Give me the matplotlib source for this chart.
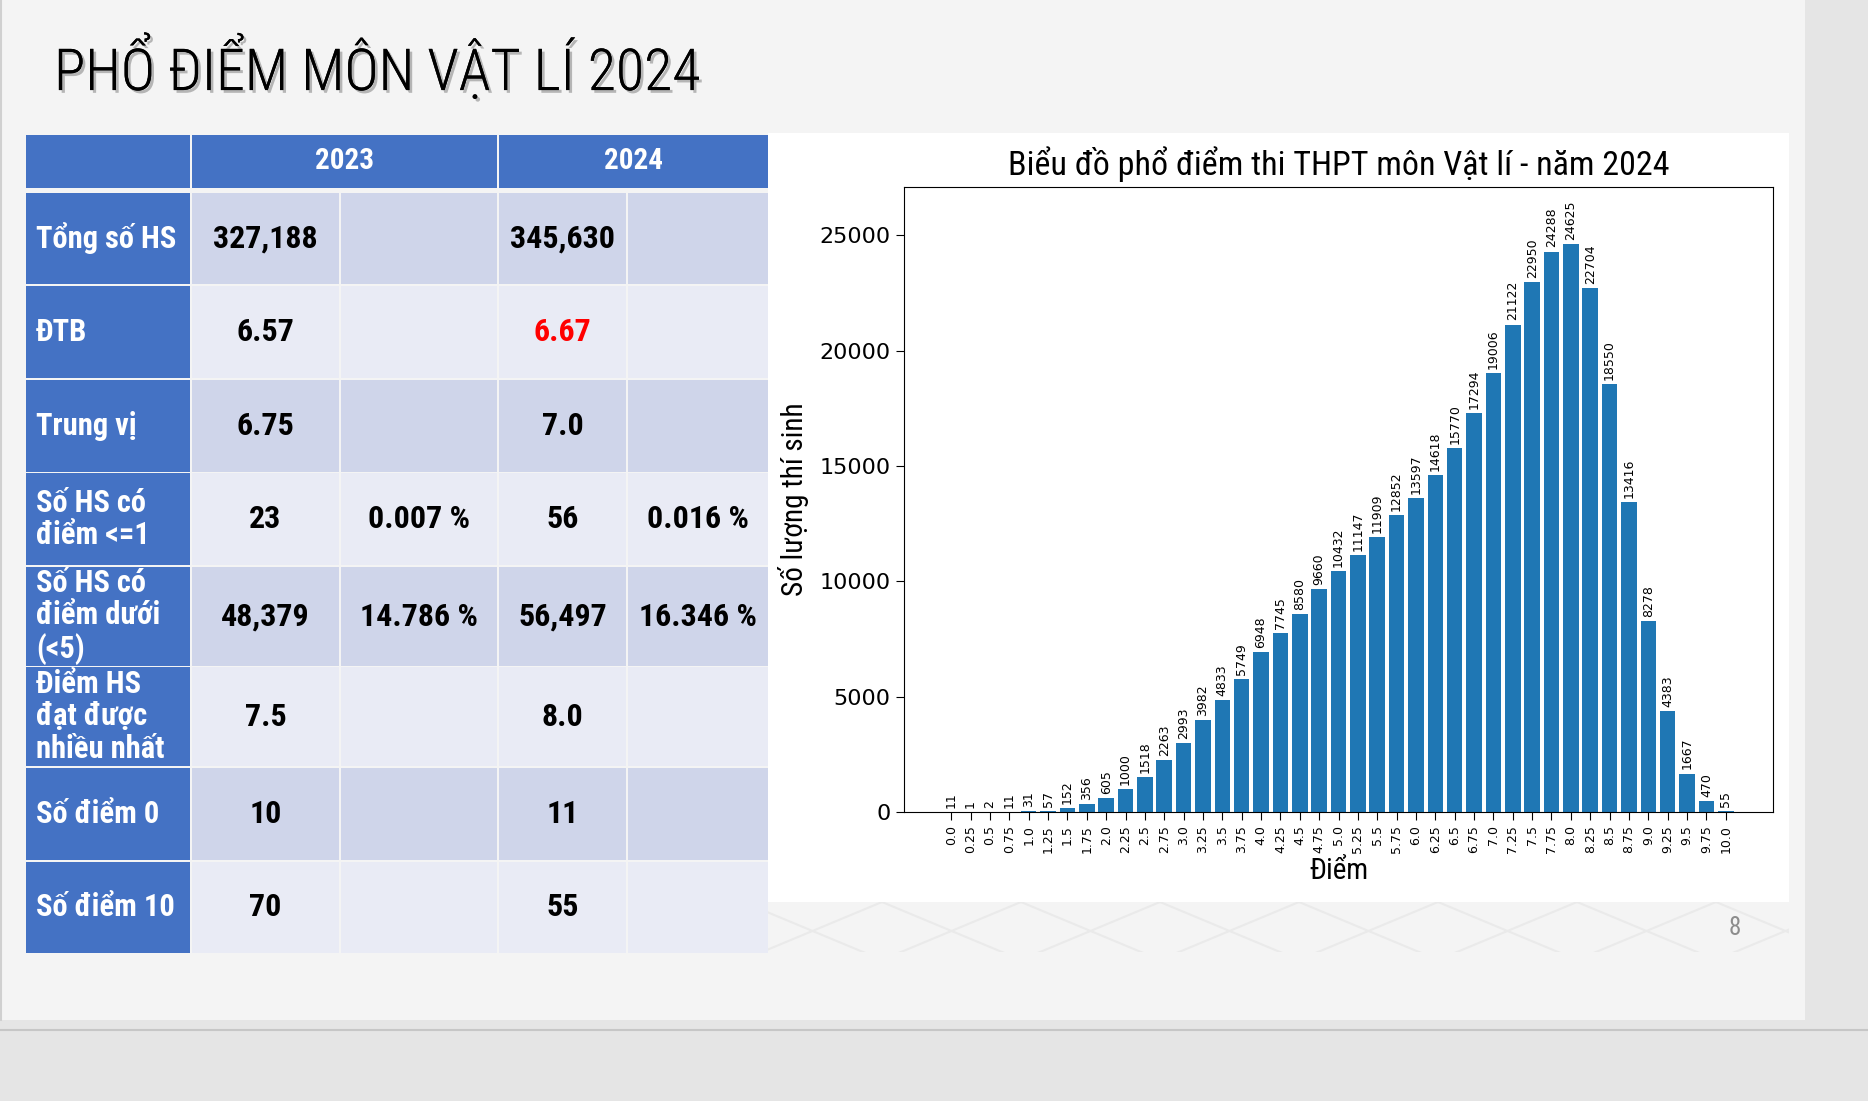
import matplotlib
matplotlib.use('Agg')
import matplotlib.pyplot as plt
from matplotlib.patches import Rectangle
from matplotlib import font_manager as fm
import matplotlib.patheffects as pe

# Du lieu pho diem
diem = ['0.0', '0.25', '0.5', '0.75', '1.0', '1.25', '1.5', '1.75', '2.0', '2.25',
        '2.5', '2.75', '3.0', '3.25', '3.5', '3.75', '4.0', '4.25', '4.5', '4.75',
        '5.0', '5.25', '5.5', '5.75', '6.0', '6.25', '6.5', '6.75', '7.0', '7.25',
        '7.5', '7.75', '8.0', '8.25', '8.5', '8.75', '9.0', '9.25', '9.5', '9.75', '10.0']
so_luong = [11, 1, 2, 11, 31, 57, 152, 356, 605, 1000,
            1518, 2263, 2993, 3982, 4833, 5749, 6948, 7745, 8580, 9660,
            10432, 11147, 11909, 12852, 13597, 14618, 15770, 17294, 19006, 21122,
            22950, 24288, 24625, 22704, 18550, 13416, 8278, 4383, 1667, 470, 55]

# Du lieu bang so sanh
nam = ['2023', '2024']
ten_hang = ['Tổng số HS', 'ĐTB', 'Trung vị', 'Số HS có\nđiểm <=1',
            'Số HS có\nđiểm dưới\n(<5)', 'Điểm HS\nđạt được\nnhiều nhất',
            'Số điểm 0', 'Số điểm 10']
gt_2023 = ['327,188', '6.57', '6.75', '23', '48,379', '7.5', '10', '70']
pt_2023 = ['', '', '', '0.007 %', '14.786 %', '', '', '']
gt_2024 = ['345,630', '6.67', '7.0', '56', '56,497', '8.0', '11', '55']
pt_2024 = ['', '', '', '0.016 %', '16.346 %', '', '', '']


def co_font(ten):
    try:
        fm.findfont(fm.FontProperties(family=ten), fallback_to_default=False)
        return True
    except Exception:
        return False


hep = 'Roboto Condensed' if co_font('Roboto Condensed') else 'Roboto'

W, H = 1868, 1101
fig = plt.figure(figsize=(W / 100, H / 100), dpi=100)
fig.patch.set_facecolor('#e5e5e5')

# nen slide (toa do pixel)
bg = fig.add_axes([0, 0, 1, 1])
bg.set_xlim(0, W)
bg.set_ylim(H, 0)
bg.axis('off')
bg.add_patch(Rectangle((0, 0), 1805, 1020, fc='#f4f4f4', ec='none'))
bg.plot([0, W], [1030, 1030], color='#c6c6c6', lw=1.5)
bg.plot([1, 1], [0, 1020], color='#d0d0d0', lw=1.5)

# hoa van mo phia duoi bieu do
clip = Rectangle((768, 902), 1021, 50, transform=bg.transData)
for k in range(-2, 10):
    x0 = 882 + 139 * k
    for dx in (-120, 120):
        ln, = bg.plot([x0, x0 + dx * 2], [902, 1002], color='#eaeaea', lw=1.5)
        ln.set_clip_path(clip)

# tieu de slide
bg.text(54, 69, 'PHỔ ĐIỂM MÔN VẬT LÍ 2024', fontsize=41.7, family=hep, weight='light',
        va='center', ha='left', color='black',
        path_effects=[pe.withSimplePatchShadow(offset=(2, -2), shadow_rgbFace='#777777', alpha=0.5),
                      pe.Normal()])

# bang
xanh = '#4472c4'
col_l = [26, 192, 341, 499, 628]
col_r = [190, 339, 497, 626, 768]
row_top = [193, 286, 380, 473, 567, 667, 768, 862]
row_bot = [284, 378, 472, 565, 666, 766, 860, 953]

bg.add_patch(Rectangle((col_l[0], 135), col_r[0] - col_l[0], 53, fc=xanh, ec='none'))
for j, y in enumerate(nam):
    xl, xr = col_l[1 + 2 * j], col_r[2 + 2 * j]
    bg.add_patch(Rectangle((xl, 135), xr - xl, 53, fc=xanh, ec='none'))
    bg.text((xl + xr) / 2, 161, y, fontsize=21, family=hep, weight='bold',
            color='white', ha='center', va='center')

for i in range(len(ten_hang)):
    t, b = row_top[i], row_bot[i]
    nen = '#cfd5ea' if i % 2 == 0 else '#e9ebf5'
    bg.add_patch(Rectangle((col_l[0], t), col_r[0] - col_l[0], b - t, fc=xanh, ec='none'))
    bg.text(36, (t + b) / 2, ten_hang[i], fontsize=22, family=hep, weight='bold',
            color='white', ha='left', va='center', linespacing=1.1)
    o = [gt_2023[i], pt_2023[i], gt_2024[i], pt_2024[i]]
    for c in range(4):
        bg.add_patch(Rectangle((col_l[c + 1], t), col_r[c + 1] - col_l[c + 1], b - t,
                               fc=nen, ec='none'))
        mau = 'red' if (i == 1 and c == 2) else 'black'
        bg.text((col_l[c + 1] + col_r[c + 1]) / 2, (t + b) / 2, o[c], fontsize=23,
                family=hep, weight='bold', color=mau, ha='center', va='center')

# khung trang cua bieu do
bg.add_patch(Rectangle((768, 133), 1021, 769, fc='white', ec='none'))
bg.text(1735, 928, '8', fontsize=18, family=hep, color='#8c8c8c', ha='center', va='center')

# bieu do cot
ax = fig.add_axes([904 / W, 1 - 812 / H, (1773 - 904) / W, (812 - 187) / H])
bars = ax.bar(range(len(diem)), so_luong, color='#1f77b4', width=0.8)
ax.bar_label(bars, labels=[str(v) for v in so_luong], rotation=90, padding=3, fontsize=9)
ax.set_ylim(0, max(so_luong) * 1.1)
ax.set_xticks(range(len(diem)))
ax.set_xticklabels(diem, rotation=90, fontsize=9)
ax.tick_params(axis='y', labelsize=16, length=6)
ax.tick_params(axis='x', length=6)
ax.set_title('Biểu đồ phổ điểm thi THPT môn Vật lí - năm 2024', fontsize=24.5,
             family=hep, pad=9)
ax.set_xlabel('Điểm', fontsize=21, family=hep, labelpad=3)
ax.set_ylabel('Số lượng thí sinh', fontsize=21, family=hep, labelpad=8)

fig.savefig('out.png', dpi=100, facecolor=fig.get_facecolor())
